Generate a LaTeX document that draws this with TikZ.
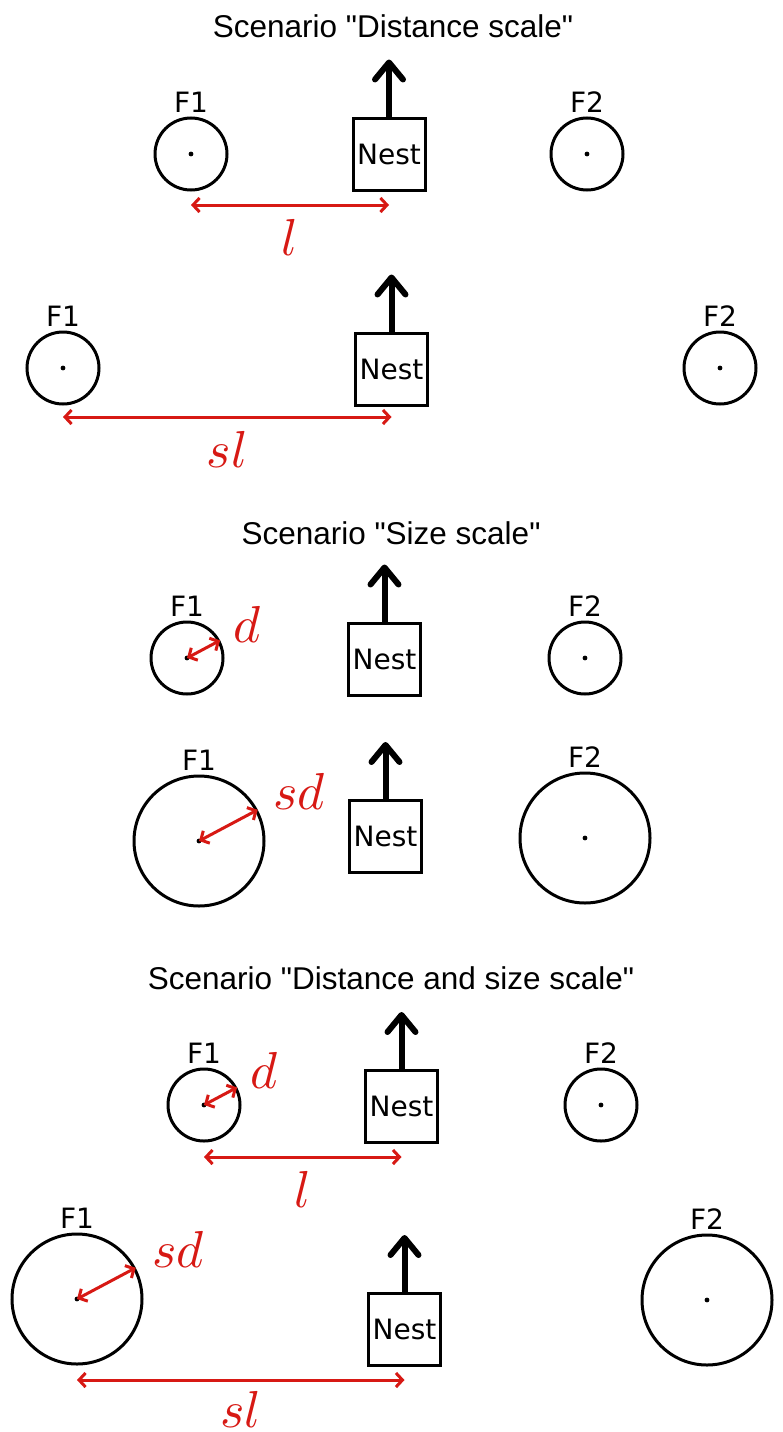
\documentclass[tikz,border=0pt]{standalone}
\usepackage{fontspec}
\setmainfont{DejaVu Sans}
\newfontfamily\titlefont{Liberation Sans}
\usetikzlibrary{arrows.meta,positioning}
\definecolor{dimred}{RGB}{215,25,20}

\begin{document}
\begin{tikzpicture}[x=1pt, y=-1pt, every node/.style={font=\fontsize{28}{32}\selectfont}, title/.style={font=\titlefont\fontsize{31.5}{36}\selectfont, inner sep=0}, food/.style={draw, circle, line width=3pt, minimum size=72pt, inner sep=0, label distance=-1pt}, bigfood/.style={food, minimum size=130pt}, nestbox/.style={draw, line width=3pt, minimum width=72pt, minimum height=72pt, inner sep=0}, exit/.style={line width=6pt, -{Straight Barb[length=17pt, width=28pt, line cap=round, line join=round]}}, dim/.style={draw=dimred, line width=3pt, {Straight Barb[length=6.5pt, width=14pt]}-{Straight Barb[length=6.5pt, width=14pt]}}, sym/.style={text=dimred, font=\normalsize, scale=5.2, inner sep=0}]
\useasboundingbox (0,0) rectangle (782,1432);
% distance scale
\node[title] (ttla) at (393,26) {Scenario "Distance scale"};
\node[food, label=above:F1] (fooda) at (191,154) {};
\node[nestbox] (nesta) at (389,154) {Nest};
\node[food, label=above:F2] (foodb) at (587,154) {};
\node[food, label=above:F1] (foodc) at (63,368) {};
\node[nestbox] (nestb) at (391.5,369) {Nest};
\node[food, label=above:F2] (foodd) at (720,368) {};
% size scale
\node[title] (ttlb) at (391,533) {Scenario "Size scale"};
\node[food, label=above:F1] (foode) at (187,658) {};
\node[nestbox] (nestc) at (384.5,659) {Nest};
\node[food, label=above:F2] (foodf) at (585,658) {};
\node[bigfood, label=above:F1] (foodg) at (199,841) {};
\node[nestbox] (nestd) at (385.5,836.5) {Nest};
\node[bigfood, label=above:F2] (foodh) at (585,838) {};
% distance and size scale
\node[title] (ttlc) at (391,978) {Scenario "Distance and size scale"};
\node[food, label=above:F1] (foodi) at (204,1105) {};
\node[nestbox] (neste) at (401.5,1106.5) {Nest};
\node[food, label=above:F2] (foodj) at (601,1105) {};
\node[bigfood, label=above:F1] (foodk) at (77,1299) {};
\node[nestbox] (nestf) at (404.5,1329.5) {Nest};
\node[bigfood, label=above:F2] (foodl) at (707,1300) {};
\foreach \f in {fooda,foodb,foodc,foodd,foode,foodf,foodg,foodh,foodi,foodj,foodk,foodl}
  \fill (\f.center) circle[radius=2.4pt];
\foreach \n in {nesta,nestb,nestc,nestd,neste,nestf}
  \draw[exit] (\n.north) -- ++(0,-57);
% lengths
\draw[dim] (fooda.center) ++(0,51) coordinate (la) -- (la -| nesta.center) node[midway, below=7pt, sym] {$l$};
\draw[dim] (foodc.center) ++(0,49) coordinate (lb) -- (lb -| nestb.center) node[midway, below=7pt, sym] {$sl$};
\draw[dim] (foodi.center) ++(0,52) coordinate (lc) -- (lc -| neste.center) node[midway, below=7pt, sym] {$l$};
\draw[dim] (foodk.center) ++(0,81) coordinate (ld) -- (ld -| nestf.center) node[midway, below=4pt, sym] {$sl$};
% radii
\draw[dim] (foode.center) -- (foode.28) node[anchor=base west, xshift=6pt, yshift=-2pt, sym] {$d$};
\draw[dim] (foodg.center) -- (foodg.28) node[anchor=base west, xshift=8pt, sym] {$sd$};
\draw[dim] (foodi.center) -- (foodi.28) node[anchor=base west, xshift=6pt, yshift=-1pt, sym] {$d$};
\draw[dim] (foodk.center) -- (foodk.28) node[anchor=base west, xshift=9pt, sym] {$sd$};
\end{tikzpicture}
\end{document}
